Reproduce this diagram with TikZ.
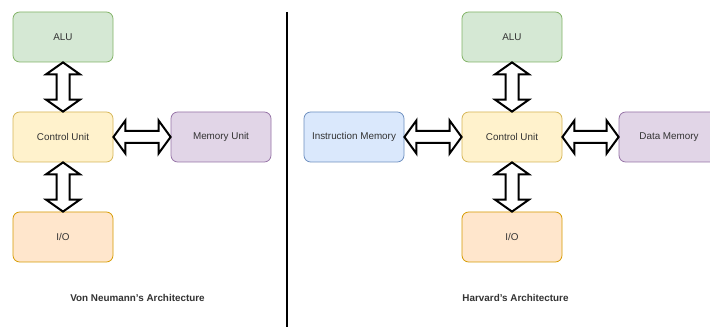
\documentclass[tikz,border=0pt]{standalone}
\usepackage{fontspec}
\setmainfont{Liberation Sans}
\usetikzlibrary{calc}
\definecolor{txt}{HTML}{333333}
\definecolor{gfill}{HTML}{D5E8D4}\definecolor{gline}{HTML}{82B366}
\definecolor{yfill}{HTML}{FFF2CC}\definecolor{yline}{HTML}{D6B656}
\definecolor{ofill}{HTML}{FFE6CC}\definecolor{oline}{HTML}{D79B00}
\definecolor{pfill}{HTML}{E1D5E7}\definecolor{pline}{HTML}{9673A6}
\definecolor{bfill}{HTML}{DAE8FC}\definecolor{bline}{HTML}{6C8EBF}
\tikzset{
  unit/.style={draw, rounded corners=5pt, minimum width=75pt, minimum height=37.5pt,
    inner sep=0pt, font=\fontsize{7.4pt}{9pt}\selectfont, text=txt, line width=0.6pt},
  alu/.style={unit, fill=gfill, draw=gline},
  ctrl/.style={unit, fill=yfill, draw=yline},
  io/.style={unit, fill=ofill, draw=oline},
  mem/.style={unit, fill=pfill, draw=pline},
  imem/.style={unit, fill=bfill, draw=bline},
  caption/.style={font=\bfseries\fontsize{7.4pt}{9pt}\selectfont, text=txt},
  block/.style={draw=black, fill=white, line width=1.5pt, line join=miter},
  % vertical double block arrow, start above target
  vblock/.style={block, to path={
    -- ($(\tikztostart)+(17,12)$) -- ($(\tikztostart)+(6.5,12)$)
    -- ($(\tikztotarget)+(6.5,-12)$) -- ($(\tikztotarget)+(17,-12)$)
    -- (\tikztotarget)
    -- ($(\tikztotarget)+(-17,-12)$) -- ($(\tikztotarget)+(-6.5,-12)$)
    -- ($(\tikztostart)+(-6.5,12)$) -- ($(\tikztostart)+(-17,12)$) -- cycle}},
  % horizontal double block arrow, start left of target
  hblock/.style={block, to path={
    -- ($(\tikztostart)+(12,-16.5)$) -- ($(\tikztostart)+(12,-6)$)
    -- ($(\tikztotarget)+(-12,-6)$) -- ($(\tikztotarget)+(-12,-16.5)$)
    -- (\tikztotarget)
    -- ($(\tikztotarget)+(-12,16.5)$) -- ($(\tikztotarget)+(-12,6)$)
    -- ($(\tikztostart)+(12,6)$) -- ($(\tikztostart)+(12,16.5)$) -- cycle}},
}
\begin{document}
\begin{tikzpicture}[x=0.75pt, y=-0.75pt]
  \useasboundingbox (0,0) rectangle (710,327);
  \clip (0,0) rectangle (710,327);
  \fill[white] (0,0) rectangle (710,327);

  % Von Neumann
  \node[alu]  (valu) at (63,37)  {ALU};
  \node[ctrl] (vcu)  at (63,137) {Control Unit};
  \node[io]   (vio)  at (63,237) {I/O};
  \node[mem]  (vmem) at (221,137) {Memory Unit};
  \draw[vblock] (valu.south) to (vcu.north);
  \draw[vblock] (vcu.south) to (vio.north);
  \draw[hblock] (vcu.east) to (vmem.west);
  \node[caption] (vcap) at (137.5,298) {Von Neumann's Architecture};

  % separator
  \coordinate (septop) at (287,12);
  \coordinate (sepbot) at (287,330);
  \draw[line width=1.5pt] (septop) -- (sepbot);

  % Harvard
  \node[alu]  (halu) at (512,37)  {ALU};
  \node[ctrl] (hcu)  at (512,137) {Control Unit};
  \node[io]   (hio)  at (512,237) {I/O};
  \node[imem] (himem) at (354,137) {Instruction Memory};
  \node[mem]  (hdmem) at (669,137) {Data Memory};
  \draw[vblock] (halu.south) to (hcu.north);
  \draw[vblock] (hcu.south) to (hio.north);
  \draw[hblock] (himem.east) to (hcu.west);
  \draw[hblock] (hcu.east) to (hdmem.west);
  \node[caption] (hcap) at (515.5,298) {Harvard's Architecture};
\end{tikzpicture}
\end{document}
